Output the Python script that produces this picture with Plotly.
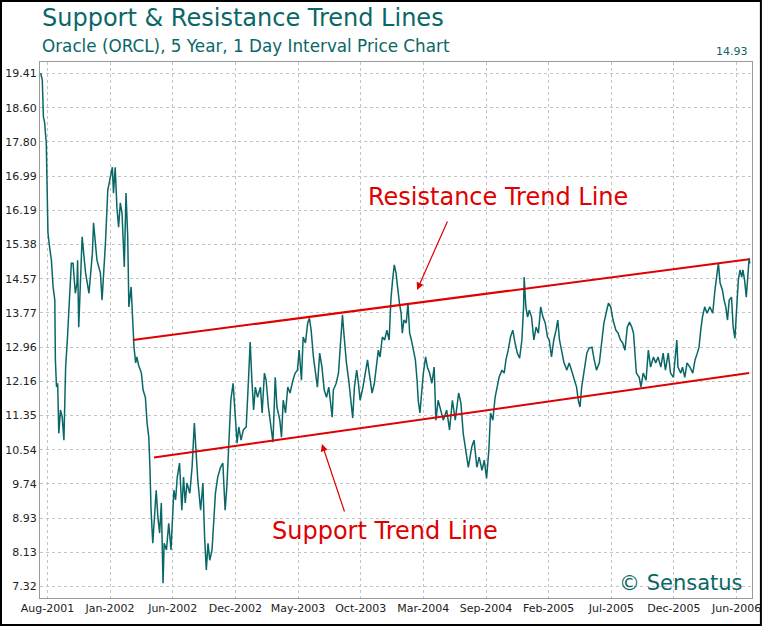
import plotly.graph_objects as go

# trading-day index (0 = start of 5 year window) and closing price
days = [1, 4, 6, 8, 11, 13, 14, 17, 20, 23, 26, 27, 29, 31, 33, 36, 39, 42, 45, 48,
        51, 55, 58, 61, 62, 65, 66, 68, 71, 74, 80, 86, 92, 94, 100, 106, 109, 115, 119, 124,
        127, 129, 132, 135, 138, 141, 144, 148, 151, 154, 156, 160, 162, 165, 168, 170, 173, 178, 181, 185,
        188, 191, 193, 195, 198, 201, 204, 207, 210, 213, 216, 218, 222, 226, 230, 235, 238, 241, 245, 249,
        252, 255, 258, 263, 267, 271, 274, 277, 282, 286, 289, 292, 295, 298, 302, 305, 308, 312, 317, 321,
        325, 328, 331, 335, 339, 343, 346, 349, 353, 357, 362, 366, 369, 372, 375, 378, 382, 387, 390, 394,
        397, 401, 406, 409, 413, 416, 421, 424, 427, 431, 435, 439, 444, 448, 452, 455, 459, 462, 466, 470,
        473, 476, 480, 484, 487, 491, 495, 499, 503, 507, 510, 513, 515, 520, 524, 528, 531, 534, 538, 542,
        546, 549, 552, 556, 559, 562, 567, 571, 575, 578, 583, 587, 590, 594, 597, 601, 605, 609, 613, 616,
        619, 622, 625, 628, 631, 634, 636, 639, 643, 646, 649, 652, 655, 659, 662, 664, 667, 670, 673, 677,
        680, 684, 688, 692, 695, 699, 704, 708, 714, 719, 724, 729, 735, 739, 743, 748, 752, 758, 762, 767,
        771, 776, 780, 784, 788, 791, 795, 799, 803, 806, 811, 815, 818, 822, 826, 830, 834, 838, 842, 846,
        849, 850, 853, 856, 859, 863, 867, 871, 875, 879, 883, 887, 891, 894, 898, 902, 906, 909, 912, 916,
        920, 925, 929, 933, 938, 942, 945, 948, 951, 955, 960, 964, 969, 973, 977, 982, 987, 990, 995, 998,
        1002, 1006, 1011, 1015, 1019, 1023, 1027, 1031, 1035, 1039, 1042, 1044, 1047, 1052, 1055, 1059, 1064, 1068, 1072, 1077,
        1081, 1085, 1090, 1094, 1098, 1103, 1107, 1112, 1115, 1118, 1120, 1125, 1128, 1132, 1136, 1141, 1146, 1150, 1154, 1157,
        1160, 1163, 1167, 1171, 1176, 1181, 1185, 1188, 1191, 1194, 1198, 1201, 1204, 1207, 1210, 1214, 1217, 1220, 1223, 1226,
        1229, 1232, 1234, 1237, 1240, 1243, 1245, 1246]

close = [19.42, 19.26, 18.38, 18.27, 17.77, 16.73, 15.65, 15.30, 15.01, 14.38, 14.07, 12.66, 12.02, 12.11, 10.93, 11.48, 11.31, 10.77, 12.49, 13.13,
         14.00, 14.94, 14.94, 14.31, 14.23, 14.47, 15.01, 13.43, 14.47, 15.56, 14.71, 14.23, 15.18, 15.89, 15.01, 14.71, 14.07, 15.44, 16.66, 17.06,
         17.20, 16.59, 17.20, 16.26, 15.79, 16.36, 16.12, 14.85, 16.59, 15.56, 13.91, 14.38, 13.76, 12.96, 12.59, 12.73, 12.54, 12.35, 11.95, 11.78,
         11.17, 10.84, 10.13, 9.12, 8.34, 8.95, 9.59, 8.95, 8.58, 9.29, 7.40, 8.34, 8.18, 8.81, 8.18, 9.59, 9.36, 9.90, 10.23, 9.12,
         9.90, 9.29, 9.76, 9.52, 10.13, 11.17, 10.53, 9.83, 9.12, 9.76, 8.48, 7.71, 8.34, 7.94, 8.18, 8.95, 9.52, 9.90, 10.13, 10.23,
         9.12, 9.66, 10.70, 11.71, 12.11, 11.31, 10.70, 11.08, 10.77, 11.01, 11.08, 12.18, 13.08, 12.18, 11.48, 12.02, 11.78, 12.02, 11.41, 12.35,
         12.18, 11.55, 11.08, 10.72, 12.25, 11.55, 11.24, 10.84, 11.71, 11.41, 12.02, 11.88, 12.18, 12.35, 12.42, 12.89, 12.18, 13.20, 13.06, 13.53,
         13.64, 13.36, 12.73, 12.25, 12.02, 12.82, 12.49, 11.95, 11.78, 12.02, 11.71, 11.31, 11.95, 12.11, 12.35, 13.13, 13.72, 13.20, 12.59, 12.18,
         11.71, 11.29, 12.02, 12.42, 12.11, 11.71, 12.02, 12.35, 12.66, 12.35, 11.88, 12.11, 12.49, 12.89, 12.73, 13.20, 13.13, 13.36, 13.13, 14.07,
         14.54, 14.90, 14.71, 14.31, 14.00, 13.76, 13.29, 13.60, 13.53, 14.00, 13.29, 13.13, 12.89, 12.66, 12.18, 11.71, 11.41, 11.95, 12.35, 12.73,
         12.49, 12.35, 12.11, 12.49, 11.24, 11.71, 11.41, 11.24, 11.48, 11.01, 11.71, 11.24, 11.88, 11.64, 10.93, 10.46, 10.13, 10.61, 10.77, 10.13,
         10.37, 10.06, 10.30, 9.87, 10.53, 11.41, 11.24, 11.78, 12.11, 12.25, 12.42, 12.35, 12.66, 12.89, 13.20, 13.36, 13.06, 12.82, 12.70, 13.13,
         13.91, 14.61, 13.91, 13.67, 13.83, 13.67, 13.13, 13.43, 13.29, 13.91, 13.67, 13.53, 13.20, 13.13, 12.73, 13.13, 13.36, 13.60, 13.13, 12.82,
         12.59, 12.42, 12.59, 12.42, 12.18, 12.02, 11.71, 11.55, 12.02, 12.35, 12.82, 12.94, 12.96, 12.66, 12.42, 12.59, 13.20, 13.53, 13.83, 14.00,
         13.91, 13.60, 13.36, 13.29, 13.13, 13.06, 12.89, 13.43, 13.55, 13.43, 13.29, 12.96, 12.35, 12.25, 12.02, 12.35, 12.18, 12.89, 12.49, 12.73,
         12.59, 12.73, 12.49, 12.82, 12.42, 12.82, 12.35, 12.25, 12.66, 13.13, 12.49, 12.35, 12.49, 12.25, 12.59, 12.49, 12.35, 12.66, 12.82, 12.96,
         13.36, 13.67, 13.91, 13.76, 13.91, 13.76, 14.31, 14.71, 14.94, 14.47, 14.31, 14.07, 13.91, 13.60, 14.07, 14.14, 13.43, 13.17, 13.91, 14.54,
         14.78, 14.61, 14.78, 14.54, 14.14, 14.85, 15.06, 14.93]

# trend lines: [start day, end day], [start price, end price]
resistance_days = [163, 1245]
resistance_price = [13.13, 15.03]
support_days = [200, 1245]
support_price = [10.36, 12.35]

x_tick_days = [13, 123, 233, 343, 453, 563, 673, 783, 893, 1003, 1113, 1223]
x_tick_labels = ["Aug-2001", "Jan-2002", "Jun-2002", "Dec-2002", "May-2003", "Oct-2003",
                 "Mar-2004", "Sep-2004", "Feb-2005", "Jul-2005", "Dec-2005", "Jun-2006"]
y_ticks = [7.32, 8.13, 8.93, 9.74, 10.54, 11.35, 12.16, 12.96, 13.77, 14.57,
           15.38, 16.19, 16.99, 17.80, 18.60, 19.41]

teal = "#0a6767"
red = "#e00000"

fig = go.Figure()
fig.add_trace(go.Scatter(x=days, y=close, mode="lines",
                         line=dict(color=teal, width=1.5), hoverinfo="skip"))
fig.add_trace(go.Scatter(x=resistance_days, y=resistance_price, mode="lines",
                         line=dict(color=red, width=2)))
fig.add_trace(go.Scatter(x=support_days, y=support_price, mode="lines",
                         line=dict(color=red, width=2)))

# annotations: labels and arrows
fig.add_annotation(x=804, y=16.5, text="Resistance Trend Line", showarrow=False,
                   font=dict(family="DejaVu Sans", size=24, color=red))
fig.add_annotation(x=662, y=14.31, text="", showarrow=True, ax=31, ay=-70,
                   arrowhead=2, arrowsize=1.2, arrowwidth=1.2, arrowcolor=red)
fig.add_annotation(x=606, y=8.63, text="Support Trend Line", showarrow=False,
                   font=dict(family="DejaVu Sans", size=24, color=red))
fig.add_annotation(x=495, y=10.68, text="", showarrow=True, ax=23, ay=69,
                   arrowhead=2, arrowsize=1.2, arrowwidth=1.2, arrowcolor=red)

fig.add_annotation(xref="paper", yref="paper", x=0, y=1.082, xanchor="left", yanchor="middle",
                   text="Support & Resistance Trend Lines", showarrow=False,
                   font=dict(family="DejaVu Sans", size=24, color=teal))
fig.add_annotation(xref="paper", yref="paper", x=0, y=1.030, xanchor="left", yanchor="middle",
                   text="Oracle (ORCL), 5 Year, 1 Day Interval Price Chart", showarrow=False,
                   font=dict(family="DejaVu Sans", size=16.8, color=teal))
fig.add_annotation(xref="paper", yref="paper", x=0.997, y=1.019, xanchor="right", yanchor="middle",
                   text="14.93", showarrow=False,
                   font=dict(family="DejaVu Sans", size=11, color=teal))
fig.add_annotation(xref="paper", yref="paper", x=0.99, y=0.028, xanchor="right", yanchor="middle",
                   text="© Sensatus", showarrow=False,
                   font=dict(family="DejaVu Sans", size=21, color=teal))

# black frame round the whole picture
fig.add_shape(type="rect", xref="paper", yref="paper", x0=-0.0548, x1=1.0125, y0=-0.0503, y1=1.1138,
              line=dict(color="black", width=2))

fig.update_xaxes(range=[0, 1250], tickvals=x_tick_days, ticktext=x_tick_labels, automargin=False,
                 showgrid=True, gridcolor="#c4c4c4", griddash="dot", gridwidth=1,
                 showline=True, linecolor="#9a9a9a", linewidth=1, mirror=True,
                 zeroline=False, ticks="", tickfont=dict(family="DejaVu Sans", size=11, color="#222"))
fig.update_yaxes(range=[7.05, 19.68], tickvals=y_ticks, ticktext=[f"{v:.2f}" for v in y_ticks],
                 automargin=False,
                 showgrid=True, gridcolor="#c4c4c4", griddash="dot", gridwidth=1,
                 showline=True, linecolor="#9a9a9a", linewidth=1, mirror=True,
                 zeroline=False, ticks="", tickfont=dict(family="DejaVu Sans", size=11, color="#222"))

fig.update_layout(width=762, height=626, margin=dict(l=40, r=10, t=62, b=28),
                  plot_bgcolor="white", paper_bgcolor="white", showlegend=False)

# page body margin off so the figure sits at the window's corner
fig.write_html("out.html", config={"displayModeBar": False},
               post_script="document.body.style.margin='0';")
